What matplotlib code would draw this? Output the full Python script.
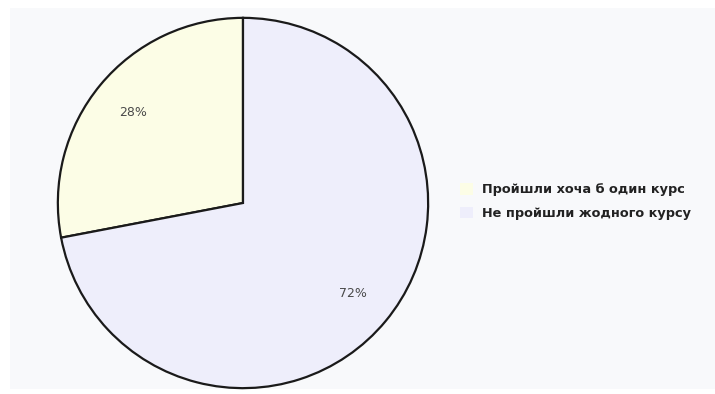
import matplotlib.pyplot as plt
from matplotlib.patches import Rectangle

labels = ['Пройшли хоча б один курс', 'Не пройшли жодного курсу']
shares = [28, 72]
colors = ['#fcfde6', '#eeeefb']

fig = plt.figure(figsize=(7.15, 3.94), dpi=100)
fig.patch.set_facecolor('white')

# light grey panel behind the chart
fig.patches.append(Rectangle((10 / 715, 1 - 389 / 394), 705 / 715, 381 / 394,
                             transform=fig.transFigure, facecolor='#f8f9fb',
                             edgecolor='none', zorder=-5))

ax = fig.add_axes([56 / 715, 1 - 390 / 394, 374 / 715, 374 / 394])
ax.set_zorder(2)
ax.patch.set_visible(False)
wedges, texts, autotexts = ax.pie(
    shares, colors=colors, startangle=90, counterclock=True,
    autopct='%d%%', pctdistance=0.77,
    wedgeprops=dict(edgecolor='#1a1a1a', linewidth=1.6),
    textprops=dict(fontsize=9, color='#4a4a4a'))
ax.set_xlim(-1.01, 1.01)
ax.set_ylim(-1.01, 1.01)
ax.set_aspect('equal')

leg = fig.legend(wedges, labels, loc='center left',
                 bbox_to_anchor=(448 / 715, 1 - 201.5 / 394),
                 frameon=False, handlelength=1.0, handleheight=1.0,
                 handletextpad=0.75, labelspacing=0.8,
                 prop=dict(size=9.3, weight='semibold'))
leg.set_zorder(3)
for h in leg.legend_handles:
    h.set_edgecolor('none')
for t in leg.get_texts():
    t.set_color('#222222')

fig.savefig('out.png', dpi=100)
